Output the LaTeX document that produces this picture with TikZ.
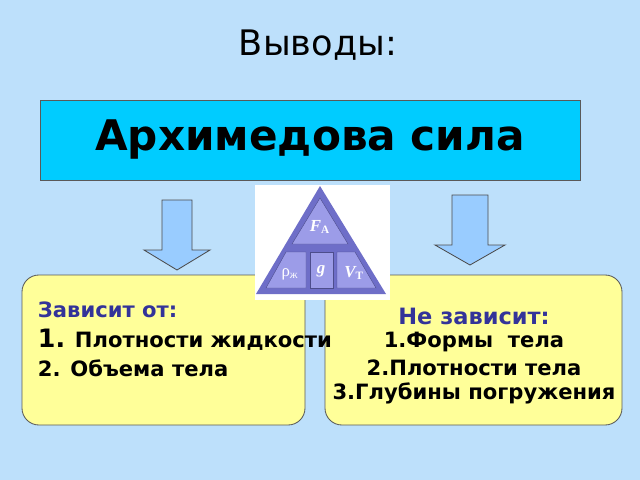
\documentclass[tikz,border=0pt]{standalone}
\usepackage{fontspec}
\setmainfont{DejaVu Sans}
\newfontfamily\trifont{Liberation Serif}
\usetikzlibrary{positioning}
\definecolor{bgblue}{HTML}{BDE0FB}
\definecolor{boxcyan}{HTML}{00CCFF}
\definecolor{paleyel}{HTML}{FFFF99}
\definecolor{navy}{HTML}{333399}
\definecolor{arrblue}{HTML}{99CCFF}
\definecolor{tridark}{HTML}{6E6EC8}
\definecolor{trilight}{HTML}{9C9CE8}
\tikzset{
  panel/.style={draw=gray!70!black, fill=paleyel, rounded corners=12pt, line width=0.6pt},
  downarrow/.style={draw=gray!60!black, fill=arrblue, line width=0.6pt},
  cell/.style={fill=trilight, draw=tridark!70!black, line width=0.3pt},
  trilabel/.style={white, font=\trifont\bfseries\itshape\fontsize{12}{13}\selectfont}
}
\begin{document}
\begin{tikzpicture}[x=0.025cm,y=-0.025cm]
  % background
  \fill[bgblue] (0,0) rectangle (640,480);
  \useasboundingbox (0,0) rectangle (640,480);

  % title
  \node (title) at (318,45) {\fontsize{25}{30}\selectfont Выводы:};

  % main box
  \node[draw=gray!70!black, fill=boxcyan, minimum width=540*0.025cm, minimum height=80*0.025cm,
        line width=0.6pt, font=\bfseries\fontsize{30}{36}\selectfont] (force) at (310,140) {Архимедова сила};

  % arrows
  \draw[downarrow] (162,200) -- (192,200) -- (192,250) -- (210,250) -- (177,270)
    -- (144,250) -- (162,250) -- cycle;
  \draw[downarrow] (452,195) -- (488,195) -- (488,245) -- (505,245) -- (470,265)
    -- (435,245) -- (452,245) -- cycle;

  % panels
  \draw[panel] (22,275) rectangle (305,425);
  \draw[panel] (325,275) rectangle (622,425);

  % formula triangle
  \fill[white] (255,185) rectangle (390,300);
  \fill[tridark] (320,186) -- (386,294) -- (256,294) -- cycle;
  \draw[cell] (320,198) -- (348,244) -- (292,244) -- cycle;
  \draw[cell] (286,252) -- (306,252) -- (306,288) -- (266,288) -- cycle;
  \draw[cell] (310,252) -- (333,252) -- (333,288) -- (310,288) -- cycle;
  \draw[cell] (337,252) -- (355,252) -- (376,288) -- (337,288) -- cycle;
  \node[trilabel] (fa) at (320,227)
    {F\textsubscript{\upshape\fontsize{8}{9}\selectfont А}};
  \node[trilabel, font=\trifont\fontsize{12}{13}\selectfont] (rho) at (290,274)
    {ρ\textsubscript{\fontsize{8}{9}\selectfont ж}};
  \node[trilabel] (g) at (321,271) {g};
  \node[trilabel] (vt) at (354,273)
    {V\textsubscript{\upshape\fontsize{8}{9}\selectfont Т}};

  % left text
  \node[anchor=west, text=navy, font=\bfseries\fontsize{15}{17}\selectfont] (dep) at (33,310) {Зависит от:};
  \node[anchor=west, font=\bfseries\fontsize{15}{17}\selectfont] (dep1) at (33,340)
    {{\fontsize{18}{19}\selectfont 1.} Плотности жидкости};
  \node[anchor=west, font=\bfseries\fontsize{15}{17}\selectfont] (dep2) at (33,368) {2. Объема тела};

  % right text
  \node[text=navy, font=\bfseries\fontsize{16}{18}\selectfont] (indep) at (474,316) {Не зависит:};
  \node[font=\bfseries\fontsize{15}{17}\selectfont] (ind1) at (474,342) {1.Формы\ \ тела};
  \node[font=\bfseries\fontsize{15}{17}\selectfont] (ind2) at (474,368) {2.Плотности тела};
  \node[font=\bfseries\fontsize{15}{17}\selectfont] (ind3) at (474,393) {3.Глубины погружения};
\end{tikzpicture}
\end{document}
